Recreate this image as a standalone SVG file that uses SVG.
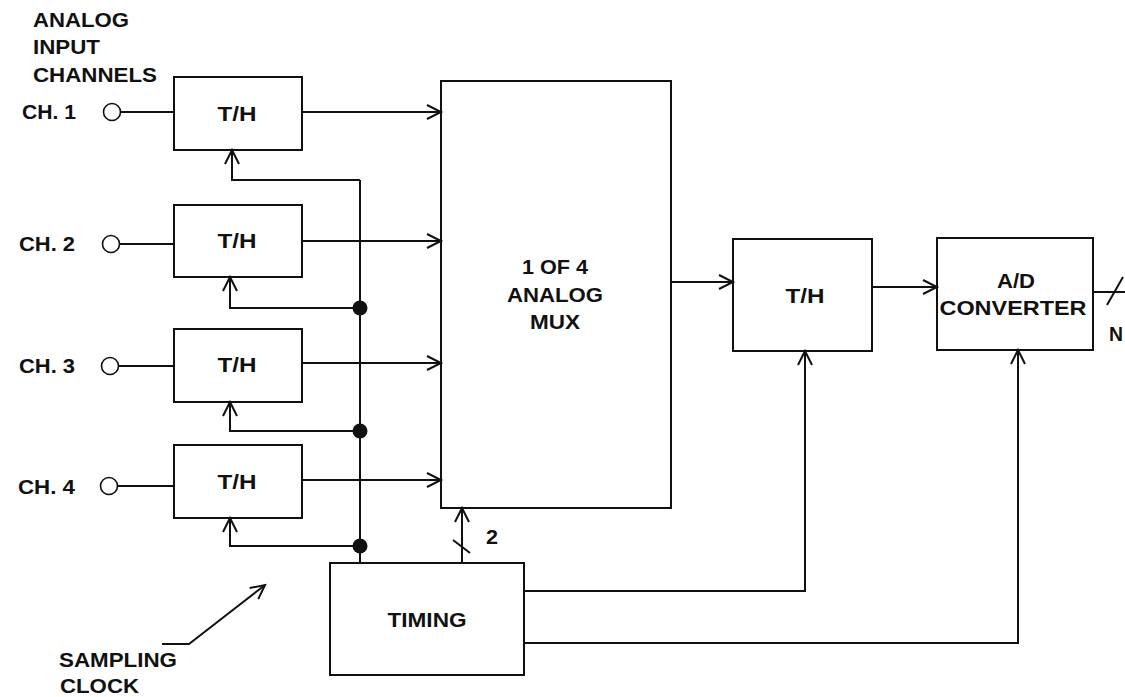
<svg xmlns="http://www.w3.org/2000/svg" width="1125" height="697" viewBox="0 0 1125 697">
<style>
.box{fill:#fff;stroke:#111;stroke-width:2}
.ln{fill:none;stroke:#111;stroke-width:2}
.arr{fill:none;stroke:#111;stroke-width:2;marker-end:url(#ah)}
.t{font-family:"Liberation Sans",Arial,sans-serif;font-weight:bold;font-size:20px;fill:#111}
.c{text-anchor:middle}
.dot{fill:#111}
.pin{fill:#fff;stroke:#111;stroke-width:1.6}
</style>
<defs>
<marker id="ah" markerUnits="userSpaceOnUse" markerWidth="20" markerHeight="20" refX="14" refY="7" orient="auto" overflow="visible">
<path d="M0,0 L14,7 L0,14" fill="none" stroke="#111" stroke-width="2"/>
</marker>
</defs>
<rect width="1125" height="697" fill="#fff"/>

<g id="labels">
<text class="t" x="33" y="27" textLength="96" lengthAdjust="spacingAndGlyphs">ANALOG</text>
<text class="t" x="33" y="54" textLength="67" lengthAdjust="spacingAndGlyphs">INPUT</text>
<text class="t" x="33" y="82" textLength="124" lengthAdjust="spacingAndGlyphs">CHANNELS</text>
<text class="t" x="59" y="667" textLength="118" lengthAdjust="spacingAndGlyphs">SAMPLING</text>
<text class="t" x="60" y="693" textLength="79" lengthAdjust="spacingAndGlyphs">CLOCK</text>
<text class="t" x="486" y="544" textLength="12" lengthAdjust="spacingAndGlyphs">2</text>
<text class="t" x="1109" y="341" textLength="14" lengthAdjust="spacingAndGlyphs">N</text>
</g>

<g id="ch1">
<text class="t" x="22" y="119" textLength="54" lengthAdjust="spacingAndGlyphs">CH. 1</text>
<circle class="pin" cx="112" cy="112" r="8.5"/>
</g>
<g id="ch2">
<text class="t" x="19" y="251" textLength="56" lengthAdjust="spacingAndGlyphs">CH. 2</text>
<circle class="pin" cx="111" cy="244" r="8.5"/>
</g>
<g id="ch3">
<text class="t" x="19" y="373" textLength="56" lengthAdjust="spacingAndGlyphs">CH. 3</text>
<circle class="pin" cx="110" cy="366" r="8.5"/>
</g>
<g id="ch4">
<text class="t" x="18" y="494" textLength="57" lengthAdjust="spacingAndGlyphs">CH. 4</text>
<circle class="pin" cx="109" cy="486" r="8.5"/>
</g>

<g id="th1">
<rect class="box" x="174" y="77" width="128" height="73"/>
<text class="t c" x="237" y="121" textLength="39" lengthAdjust="spacingAndGlyphs">T/H</text>
</g>
<g id="th2">
<rect class="box" x="174" y="205" width="128" height="72"/>
<text class="t c" x="237" y="248" textLength="39" lengthAdjust="spacingAndGlyphs">T/H</text>
</g>
<g id="th3">
<rect class="box" x="174" y="329" width="128" height="73"/>
<text class="t c" x="237" y="372" textLength="39" lengthAdjust="spacingAndGlyphs">T/H</text>
</g>
<g id="th4">
<rect class="box" x="174" y="445" width="128" height="73"/>
<text class="t c" x="237" y="489" textLength="39" lengthAdjust="spacingAndGlyphs">T/H</text>
</g>

<g id="mux">
<rect class="box" x="441" y="81" width="230" height="427"/>
<text class="t c" x="555" y="274" textLength="66" lengthAdjust="spacingAndGlyphs">1 OF 4</text>
<text class="t c" x="555" y="302" textLength="96" lengthAdjust="spacingAndGlyphs">ANALOG</text>
<text class="t c" x="555" y="329" textLength="50" lengthAdjust="spacingAndGlyphs">MUX</text>
</g>

<g id="th5">
<rect class="box" x="733" y="239" width="139" height="112"/>
<text class="t c" x="805" y="303" textLength="39" lengthAdjust="spacingAndGlyphs">T/H</text>
</g>

<g id="adc">
<rect class="box" x="937" y="238" width="156" height="112"/>
<text class="t c" x="1016" y="288" textLength="38" lengthAdjust="spacingAndGlyphs">A/D</text>
<text class="t c" x="1013" y="315" textLength="147" lengthAdjust="spacingAndGlyphs">CONVERTER</text>
</g>

<g id="timing">
<rect class="box" x="330" y="563" width="194" height="112"/>
<text class="t c" x="427" y="627" textLength="79" lengthAdjust="spacingAndGlyphs">TIMING</text>
</g>

<g id="connectors">
<line class="ln" x1="120.5" y1="112" x2="174" y2="112"/>
<line class="ln" x1="119.5" y1="244" x2="174" y2="244"/>
<line class="ln" x1="118.5" y1="366" x2="174" y2="366"/>
<line class="ln" x1="117.5" y1="486" x2="174" y2="486"/>
<path class="arr" d="M302,112 H441"/>
<path class="arr" d="M302,241 H441"/>
<path class="arr" d="M302,363 H441"/>
<path class="arr" d="M302,480 H441"/>
<path class="ln" d="M360,563 V180"/>
<path class="arr" d="M360,180 H232 V150"/>
<path class="arr" d="M360,308 H230 V277"/>
<path class="arr" d="M360,431 H230 V402"/>
<path class="arr" d="M360,546 H230 V518"/>
<circle class="dot" cx="360" cy="308" r="7.5"/>
<circle class="dot" cx="360" cy="431" r="7.5"/>
<circle class="dot" cx="360" cy="546" r="7.5"/>
<path class="arr" d="M462,563 V508"/>
<line class="ln" x1="453" y1="540" x2="470" y2="553"/>
<path class="arr" d="M671,282 H733"/>
<path class="arr" d="M872,287 H937"/>
<line class="ln" x1="1093" y1="292" x2="1125" y2="292"/>
<line class="ln" x1="1107" y1="305" x2="1123" y2="277"/>
<path class="arr" d="M524,591 H805 V351"/>
<path class="arr" d="M524,643 H1018 V350"/>
<path class="arr" d="M162,644 H189 L265,585"/>
</g>
</svg>
